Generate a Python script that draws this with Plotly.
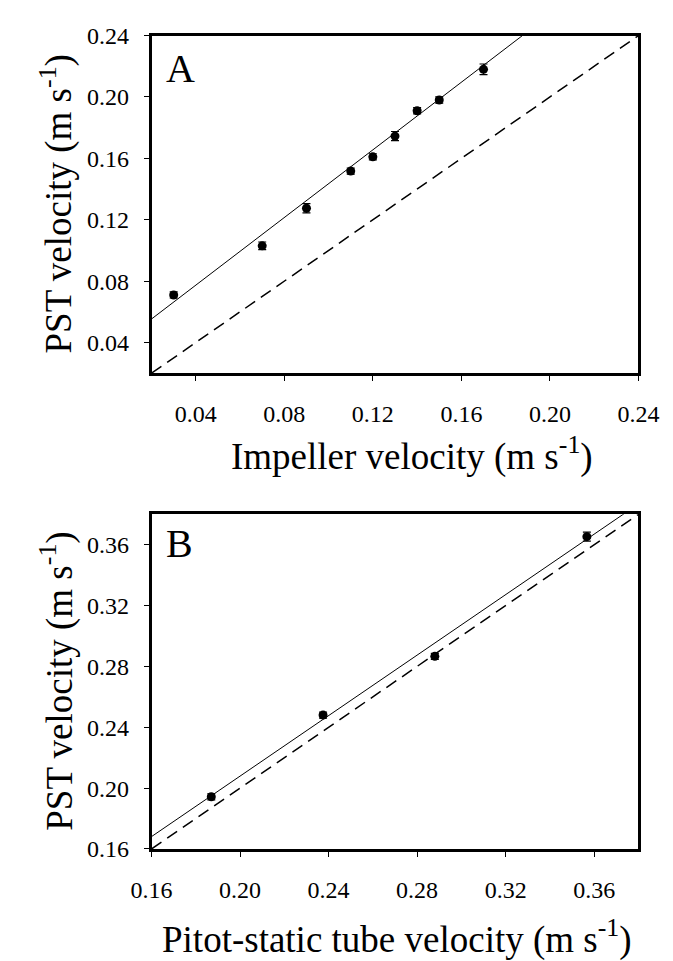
import plotly.graph_objects as go

# ---- Data ----
# Panel A: impeller vs PST velocity
a_x = [0.03, 0.07, 0.09, 0.11, 0.12, 0.13, 0.14, 0.15, 0.17]
a_y = [0.071, 0.103, 0.1275, 0.1517, 0.161, 0.1745, 0.191, 0.198, 0.218]
a_err = [0.002, 0.0025, 0.003, 0.002, 0.002, 0.003, 0.002, 0.002, 0.0035]
a_fit = (1.102, 0.0333)   # slope, intercept of regression line
# Panel B: pitot-static tube vs PST velocity
b_x = [0.187, 0.2375, 0.288, 0.3567]
b_y = [0.1943, 0.248, 0.2866, 0.3653]
b_err = [0.002, 0.002, 0.002, 0.003]
b_fit = (0.994, 0.0091)

a_range = [0.02, 0.24]
b_range = [0.16, 0.38]
a_ticks = [0.04, 0.08, 0.12, 0.16, 0.20, 0.24]
b_ticks = [0.16, 0.20, 0.24, 0.28, 0.32, 0.36]

W, H = 673, 961
FONT = "Liberation Serif"

def py(px):
    return 1 - px / H

fig = go.Figure()

def add_panel(xs, ys, errs, fit, rng, xa, ya):
    # 1:1 dashed line
    fig.add_trace(go.Scatter(x=rng, y=rng, mode="lines",
                             line=dict(color="black", width=1.5, dash="12px,7px"),
                             xaxis=xa, yaxis=ya, showlegend=False, hoverinfo="skip"))
    # regression line
    fx = rng
    fy = [fit[0] * v + fit[1] for v in fx]
    fig.add_trace(go.Scatter(x=fx, y=fy, mode="lines",
                             line=dict(color="black", width=1),
                             xaxis=xa, yaxis=ya, showlegend=False, hoverinfo="skip"))
    # points with error bars
    fig.add_trace(go.Scatter(x=xs, y=ys, mode="markers",
                             marker=dict(color="black", size=9),
                             error_y=dict(type="data", array=errs, visible=True,
                                          color="black", thickness=1.2, width=4),
                             xaxis=xa, yaxis=ya, showlegend=False))

add_panel(a_x, a_y, a_err, a_fit, a_range, "x", "y")
add_panel(b_x, b_y, b_err, b_fit, b_range, "x2", "y2")

xdom = [130.7 / W, 650 / W]
A_top, A_bot = 15, 362
B_top, B_bot = 507, 851

axis_common = dict(showline=True, linecolor="black", linewidth=2.5, mirror=True,
                   ticks="outside", ticklen=5, tickwidth=1, tickcolor="black",
                   showgrid=False, zeroline=False, tickformat=".2f",
                   tickfont=dict(family=FONT, size=24, color="black"))

fig.update_layout(
    width=W, height=H,
    margin=dict(l=0, r=0, t=0, b=0),
    paper_bgcolor="white", plot_bgcolor="white",
    font=dict(family=FONT, color="black"),
    xaxis=dict(domain=xdom, range=a_range, tickvals=a_ticks, anchor="y",
               ticklabelstandoff=12, **axis_common),
    yaxis=dict(domain=[py(A_bot), py(A_top)], range=a_range, tickvals=a_ticks, anchor="x",
               ticklabelstandoff=10, **axis_common),
    xaxis2=dict(domain=xdom, range=b_range, tickvals=b_ticks, anchor="y2",
                ticklabelstandoff=12, **axis_common),
    yaxis2=dict(domain=[py(B_bot), py(B_top)], range=b_range, tickvals=b_ticks, anchor="x2",
                ticklabelstandoff=10, **axis_common),
)

ann_font = dict(family=FONT, size=37, color="black")
annotations = [
    dict(text="Impeller velocity (m s<sup>-1</sup>)", x=409 / W, y=py(445), xref="paper", yref="paper",
         showarrow=False, font=ann_font, xanchor="center", yanchor="middle"),
    dict(text="PST velocity (m s<sup>-1</sup>)", x=30 / W, y=py((A_top + A_bot) / 2), xref="paper", yref="paper",
         showarrow=False, font=ann_font, textangle=-90, xanchor="center", yanchor="middle"),
    dict(text="Pitot-static tube velocity (m s<sup>-1</sup>)", x=392 / W, y=py(941), xref="paper", yref="paper",
         showarrow=False, font=ann_font, xanchor="center", yanchor="middle"),
    dict(text="PST velocity (m s<sup>-1</sup>)", x=30 / W, y=py((B_top + B_bot) / 2), xref="paper", yref="paper",
         showarrow=False, font=ann_font, textangle=-90, xanchor="center", yanchor="middle"),
    dict(text="A", x=144 / W, y=py(49), xref="paper", yref="paper", showarrow=False,
         font=dict(family=FONT, size=40, color="black"), xanchor="left", yanchor="middle"),
    dict(text="B", x=144 / W, y=py(537), xref="paper", yref="paper", showarrow=False,
         font=dict(family=FONT, size=40, color="black"), xanchor="left", yanchor="middle"),
]
fig.update_layout(annotations=annotations)

fig.write_html("out.html")
